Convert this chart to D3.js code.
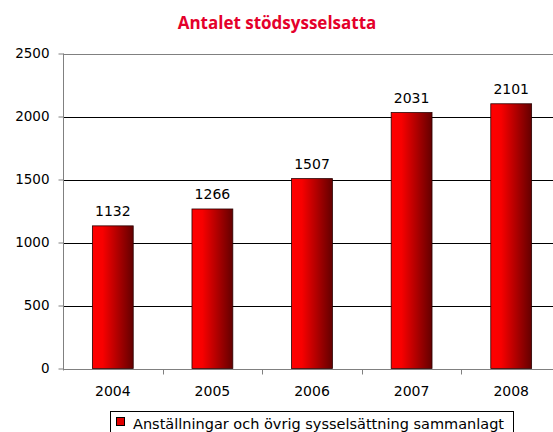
<!DOCTYPE html>
<html>
<head>
<meta charset="utf-8">
<script src="https://cdn.jsdelivr.net/npm/d3@7/dist/d3.min.js"></script>
<style>
  html, body { margin: 0; padding: 0; background: #fff; }
  svg { display: block; font-family: "DejaVu Sans", Verdana, sans-serif; }
</style>
</head>
<body>
<svg id="chart" width="553" height="432"></svg>
<script>
// Chart data
const years = ["2004", "2005", "2006", "2007", "2008"];
const values = [1132, 1266, 1507, 2031, 2101];
const yTicks = [0, 500, 1000, 1500, 2000, 2500];
const title = "Antalet stödsysselsatta";
const seriesName = "Anställningar och övrig sysselsättning sammanlagt";

const svg = d3.select("#chart");
const plot = { left: 63, right: 561, top: 53.5, bottom: 368.5 };

const x = d3.scaleBand().domain(years).range([plot.left, plot.right]).paddingInner(0.59).paddingOuter(0.295);
const y = d3.scaleLinear().domain([0, 2500]).range([plot.bottom, plot.top]);

// Bar gradient: bright red fading to dark red
const defs = svg.append("defs");
const grad = defs.append("linearGradient").attr("id", "barGrad").attr("x1", "0").attr("x2", "1").attr("y1", "0").attr("y2", "0");
grad.append("stop").attr("offset", "0%").attr("stop-color", "#ff0000");
grad.append("stop").attr("offset", "25%").attr("stop-color", "#f80000");
grad.append("stop").attr("offset", "100%").attr("stop-color", "#640000");

// Title
svg.append("text")
  .attr("x", 277).attr("y", 28.5)
  .attr("text-anchor", "middle")
  .attr("font-family", "'Open Sans', 'Noto Sans', sans-serif")
  .attr("font-size", 17).attr("font-weight", "bold")
  .attr("fill", "#e4002b")
  .text(title);

// Gridlines
svg.append("g").selectAll("line").data(yTicks.filter(d => d > 0)).join("line")
  .attr("x1", plot.left).attr("x2", plot.right)
  .attr("y1", d => Math.round(y(d)) + 0.5).attr("y2", d => Math.round(y(d)) + 0.5)
  .attr("stroke", d => d === 2500 ? "#808080" : "#000").attr("stroke-width", 1);

// Y axis
const yAxis = svg.append("g").attr("transform", `translate(${plot.left + 0.5},0)`)
  .call(d3.axisLeft(y).tickValues(yTicks).tickSize(5).tickPadding(9).tickFormat(d3.format("d")));
yAxis.select(".domain").attr("stroke", "#808080").attr("d", `M0,${y(2500)}V${y(0) + 2}`);
yAxis.selectAll(".tick line").attr("stroke", "#808080");
yAxis.selectAll(".tick text").attr("font-size", 13.5).attr("fill", "#000").attr("font-family", "DejaVu Sans, Verdana, sans-serif");

// X axis
const xBoundaries = years.map(d => x(d) - x.step() * x.paddingInner() / 2);
const xAxis = svg.append("g").attr("transform", `translate(0,${Math.round(y(0)) + 0.5})`);
xAxis.append("line").attr("x1", plot.left).attr("x2", plot.right).attr("stroke", "#808080");
xAxis.selectAll("line.tk").data(xBoundaries.slice(1)).join("line").attr("class", "tk")
  .attr("x1", d => Math.round(d) + 0.5).attr("x2", d => Math.round(d) + 0.5)
  .attr("y1", 0).attr("y2", 5).attr("stroke", "#808080");
xAxis.selectAll("text").data(years).join("text")
  .attr("x", d => x(d) + x.bandwidth() / 2).attr("y", 26.5)
  .attr("text-anchor", "middle").attr("font-size", 14).attr("fill", "#000")
  .text(d => d);

// Bars
svg.append("g").selectAll("rect").data(values).join("rect")
  .attr("x", (d, i) => x(years[i]))
  .attr("y", d => y(d))
  .attr("width", x.bandwidth())
  .attr("height", d => y(0) - y(d))
  .attr("fill", "url(#barGrad)")
  .attr("stroke", "#2a0000").attr("stroke-width", 0.8);

// Value labels
svg.append("g").selectAll("text").data(values).join("text")
  .attr("x", (d, i) => x(years[i]) + x.bandwidth() / 2)
  .attr("y", d => y(d) - 9.5)
  .attr("text-anchor", "middle").attr("font-size", 14).attr("fill", "#000")
  .text(d => d);

// Legend
const legend = svg.append("g");
legend.append("rect").attr("x", 110.5).attr("y", 411.5).attr("width", 403).attr("height", 30)
  .attr("fill", "#fff").attr("stroke", "#000");
legend.append("rect").attr("x", 116.5).attr("y", 417.5).attr("width", 8).attr("height", 8)
  .attr("fill", "#e00000").attr("stroke", "#000");
legend.append("text").attr("x", 133).attr("y", 428.5)
  .attr("font-size", 14.5).attr("fill", "#000").text(seriesName);
</script>
</body>
</html>
